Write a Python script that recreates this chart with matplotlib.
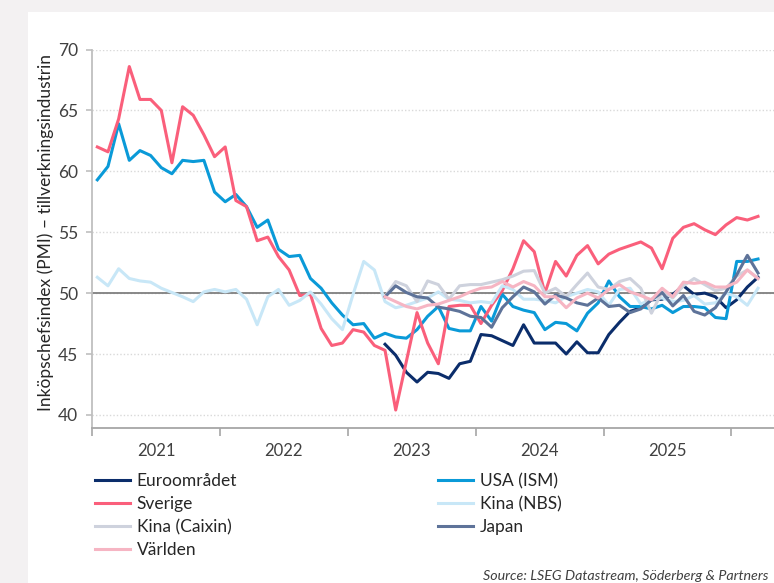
import matplotlib
matplotlib.use("Agg")
import matplotlib.pyplot as plt
from matplotlib.patches import Rectangle
import numpy as np

plt.rcParams['font.family'] = ['Lato', 'DejaVu Sans']

# Monthly PMI, Jan 2021 .. Mar 2026 (month index 0..62)
years = ["2021", "2022", "2023", "2024", "2025"]

sverige = [62.0, 61.6, 64.3, 68.6, 65.9, 65.9, 65.0, 60.7, 65.3, 64.6, 63.0, 61.2,
           62.0, 57.6, 57.1, 54.3, 54.6, 53.0, 51.9, 49.8, 49.9, 47.1, 45.7, 45.9,
           47.0, 46.8, 45.7, 45.3, 40.4, 44.4, 48.4, 45.9, 44.2, 48.9, 49.0, 49.0,
           47.5, 49.0, 50.2, 52.0, 54.3, 53.4, 50.0, 52.6, 51.4, 53.1, 53.9, 52.4,
           53.2, 53.6, 53.9, 54.2, 53.7, 52.0, 54.5, 55.4, 55.7, 55.2, 54.8, 55.6,
           56.2, 56.0, 56.3]

usa = [59.3, 60.4, 63.9, 60.9, 61.7, 61.3, 60.3, 59.8, 60.9, 60.8, 60.9, 58.3,
       57.5, 58.1, 57.1, 55.4, 56.0, 53.6, 53.0, 53.1, 51.2, 50.4, 49.2, 48.2,
       47.4, 47.5, 46.3, 46.7, 46.4, 46.3, 47.0, 48.1, 48.9, 47.1, 46.9, 46.9,
       48.9, 47.7, 49.9, 48.9, 48.6, 48.4, 47.0, 47.6, 47.5, 46.9, 48.35, 49.2,
       51.0, 49.7, 48.9, 48.9, 48.7, 49.0, 48.4, 48.9, 48.9, 48.8, 48.0, 47.9,
       52.6, 52.6, 52.8]

kina_nbs = [51.3, 50.6, 52.0, 51.2, 51.0, 50.9, 50.4, 50.05, 49.7, 49.3, 50.1, 50.3,
            50.1, 50.3, 49.5, 47.4, 49.7, 50.3, 49.0, 49.4, 50.1, 49.1, 47.9, 47.0,
            49.9, 52.6, 51.9, 49.3, 48.8, 49.0, 49.3, 49.6, 50.1, 49.5, 49.4, 49.2,
            49.3, 49.2, 50.6, 50.3, 49.5, 49.5, 49.4, 49.2, 49.7, 50.0, 50.3, 50.1,
            49.0, 50.3, 50.4, 49.1, 49.5, 49.6, 49.3, 49.4, 49.8, 49.1, 49.2, 50.0,
            49.7, 49.0, 50.4]

# series starting Apr 2023 (month index 27)
start_late = 27
euro = [45.8, 44.9, 43.5, 42.7, 43.5, 43.4, 43.0, 44.2, 44.4, 46.6, 46.5, 46.1,
        45.7, 47.4, 45.9, 45.9, 45.9, 45.0, 46.0, 45.1, 45.1, 46.6, 47.6, 48.5,
        48.8, 49.45, 49.5, 49.9, 50.6, 49.9, 50.0, 49.7, 48.8, 49.45, 50.5, 51.3]

kina_caixin = [49.7, 50.95, 50.6, 49.3, 51.0, 50.7, 49.5, 50.6, 50.7, 50.7, 50.9, 51.1,
               51.4, 51.8, 51.85, 50.0, 50.4, 49.7, 50.7, 51.65, 50.5, 50.3, 50.95, 51.2,
               50.4, 48.35, 50.1, 49.6, 50.6, 51.2, 50.7, 50.2, 50.4, 51.4, 51.9, 51.2]

japan = [49.7, 50.6, 50.05, 49.7, 49.6, 48.85, 48.7, 48.5, 48.1, 48.0, 47.2, 48.8,
         49.7, 50.5, 50.1, 49.1, 49.85, 49.6, 49.2, 49.0, 49.6, 48.9, 49.0, 48.4,
         48.7, 49.45, 50.05, 48.95, 49.8, 48.5, 48.2, 48.8, 50.1, 51.5, 53.1, 51.65]

varlden = [49.7, 49.3, 48.9, 48.7, 49.0, 49.1, 49.4, 49.7, 50.1, 50.4, 50.5, 50.95,
           50.5, 50.95, 50.6, 49.7, 49.7, 48.8, 49.6, 50.0, 49.6, 50.3, 50.7, 50.1,
           49.8, 49.45, 50.4, 49.7, 50.9, 50.8, 50.9, 50.5, 50.5, 50.9, 51.9, 51.2]

W, H = 774, 583
fig = plt.figure(figsize=(W / 100, H / 100), dpi=100)
fig.patch.set_facecolor('#F3F1F2')
# white panel (the grey strips are the surrounding page)
fig.patches.append(Rectangle((28 / W, 0), 1 - 28 / W, 1 - 12 / H,
                             transform=fig.transFigure, facecolor='white',
                             edgecolor='none', zorder=-10))

ax = fig.add_axes([92 / W, 1 - 427.7 / H, 1 - 92 / W, (427.7 - 49.5) / H])
ax.set_facecolor('none')

x_full = np.arange(len(sverige))
x_late = np.arange(start_late, start_late + len(euro))

lw = 2.2
# draw in series order (later on top)
ax.plot(x_late, euro, color='#0B2D6B', lw=lw, label='Euroområdet', zorder=3)
ax.plot(x_full, usa, color='#0A9AD8', lw=lw, label='USA (ISM)', zorder=3)
ax.plot(x_full, sverige, color='#FA5F7B', lw=lw, label='Sverige', zorder=3)
ax.plot(x_full, kina_nbs, color='#C8E7F7', lw=lw, label='Kina (NBS)', zorder=3)
ax.plot(x_late, kina_caixin, color='#CED2DD', lw=lw, label='Kina (Caixin)', zorder=3)
ax.plot(x_late, japan, color='#5E7399', lw=lw, label='Japan', zorder=3)
ax.plot(x_late, varlden, color='#F6B5C3', lw=lw, label='Världen', zorder=3)

ax.axhline(50, color='#7F7F7F', lw=1.3, zorder=2)

ax.set_ylim(38.95, 70)
ax.set_xlim(-0.5, 63.5)
ax.set_yticks(np.arange(40, 71, 5))
ax.yaxis.grid(True, linestyle=(0, (1, 1.5)), color='#D9D9D9', lw=1.0)
ax.set_axisbelow(True)

ax.set_xticks(np.arange(-0.5, 63, 12))
ax.set_xticklabels([])
ax.set_xticks(np.arange(5.5, 60, 12), minor=True)
ax.set_xticklabels(years, minor=True)
ax.tick_params(axis='x', which='major', length=6, width=1.2, color='#A6A6A6')
ax.tick_params(axis='x', which='minor', length=0, pad=11, labelsize=12, labelcolor='#404040')
ax.tick_params(axis='y', length=4, width=1.2, color='#BFBFBF', pad=6,
               labelsize=12.5, labelcolor='#404040')

for s in ['top', 'right']:
    ax.spines[s].set_visible(False)
ax.spines['left'].set_color('#BFBFBF')
ax.spines['left'].set_linewidth(1.3)
ax.spines['bottom'].set_color('#A6A6A6')
ax.spines['bottom'].set_linewidth(1.3)

fig.text(46 / W, 1 - 232 / H, 'Inköpschefsindex (PMI) – tillverkningsindustrin',
         rotation=90, ha='center', va='center', fontsize=12.5, color='#262626')

handles, labels = ax.get_legend_handles_labels()
order = ['Euroområdet', 'Sverige', 'Kina (Caixin)', 'Världen',
         'USA (ISM)', 'Kina (NBS)', 'Japan']
hmap = dict(zip(labels, handles))
leg = fig.legend([hmap[k] for k in order], order, ncol=2,
                 loc='upper left', bbox_to_anchor=(95 / W, 1 - 473 / H),
                 frameon=False, fontsize=12.5, handlelength=2.0,
                 handletextpad=0.4, columnspacing=11.6, labelspacing=0.4,
                 borderaxespad=0, borderpad=0)
for t in leg.get_texts():
    t.set_color('#262626')

fig.text(483 / W, 1 - 576 / H, 'Source: LSEG Datastream, Söderberg & Partners',
         ha='left', va='center', fontsize=10.3, style='italic', color='#404040')

fig.savefig('out.png', dpi=100)
